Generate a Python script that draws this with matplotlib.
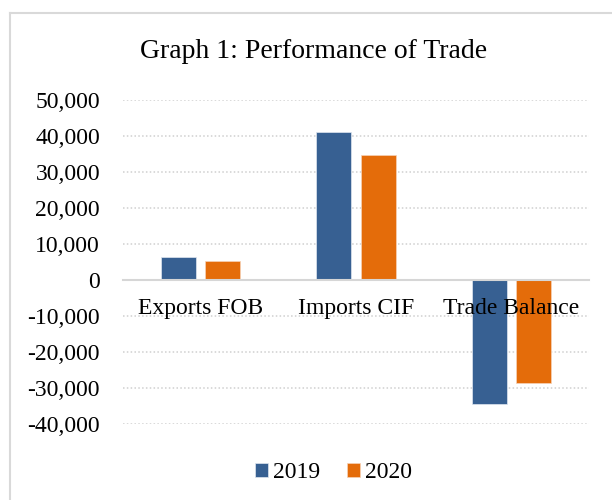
import matplotlib
matplotlib.use("Agg")
from matplotlib import pyplot as plt
from matplotlib.lines import Line2D
import numpy as np

categories = ['Exports FOB', 'Imports CIF', 'Trade Balance']
vals_2019 = [6450, 41000, -34400]
vals_2020 = [5350, 34700, -28500]
series_names = ['2019', '2020']
yticks = [-40000, -30000, -20000, -10000, 0, 10000, 20000, 30000, 40000, 50000]

plt.rcParams['font.family'] = ['Liberation Serif', 'DejaVu Serif']

W, H = 612, 500
fig = plt.figure(figsize=(W/100, H/100), dpi=100)
# axes box in pixels: left 123, right 589, top 100, bottom 424
ax = fig.add_axes([123/W, 1 - 424/H, (589-123)/W, (424-100)/H])

x = np.arange(len(categories))
w = 0.225
b1 = ax.bar(x - 0.143, vals_2019, w, color='#376092', edgecolor='#dfe6ef', linewidth=0.5,
            label=series_names[0], zorder=2)
b2 = ax.bar(x + 0.143, vals_2020, w, color='#E46C0A', edgecolor='#f6d3b8', linewidth=0.5,
            label=series_names[1], zorder=2)

ax.set_xlim(-0.5, 2.5)
ax.set_ylim(-40000, 50000)
ax.set_yticks(yticks)
ax.set_yticklabels(['{:,}'.format(v) for v in yticks], fontsize=17)
ax.grid(axis='y', color='#D0D0D0', linestyle=(0, (1, 1.5)), linewidth=1.1, zorder=0)

for s in ['top', 'right', 'left']:
    ax.spines[s].set_visible(False)
ax.spines['bottom'].set_position(('data', 0))
ax.spines['bottom'].set_color('#D6D6D6')
ax.spines['bottom'].set_linewidth(1.5)
ax.spines['bottom'].set_zorder(4)
ax.set_xticks(x)
ax.set_xticklabels(categories, fontsize=17)
ax.xaxis.set_zorder(5)
ax.tick_params(axis='x', length=0, pad=13)
ax.tick_params(axis='y', length=0, pad=16.5)

fig.text(313.5/W, 1 - 52/H, 'Graph 1: Performance of Trade', ha='center', va='center', fontsize=20)

fig.legend(handles=[b1, b2], loc='center', bbox_to_anchor=(333.5/W, 1 - 473/H), ncol=2,
           frameon=False, fontsize=17, handlelength=0.55, handleheight=0.55,
           handletextpad=0.2, columnspacing=1.15, borderpad=0, borderaxespad=0)

# border of the chart area (right and bottom edges are cut off)
fig.add_artist(Line2D([9.5/W, 1], [1 - 13/H, 1 - 13/H], transform=fig.transFigure,
                      color='#D9D9D9', linewidth=1.5))
fig.add_artist(Line2D([9.5/W, 9.5/W], [0, 1 - 13/H], transform=fig.transFigure,
                      color='#D9D9D9', linewidth=1.5))

fig.savefig('out.png', dpi=100)
